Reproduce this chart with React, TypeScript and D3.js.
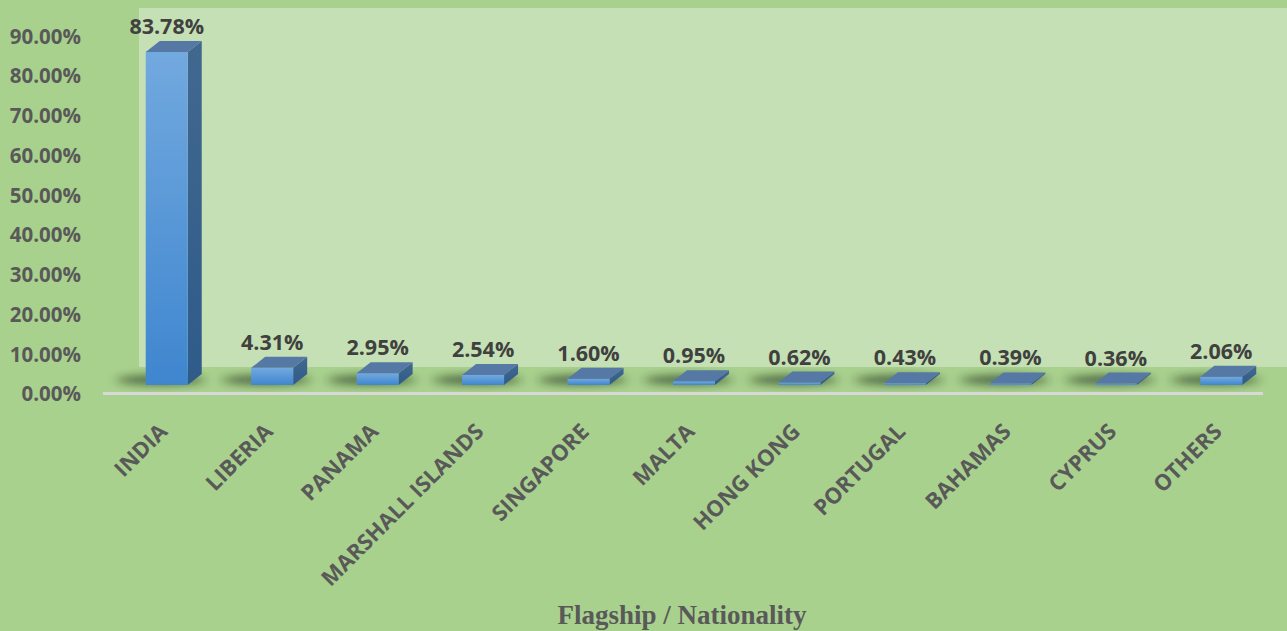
import React from 'react';
import * as d3 from 'd3';

// Share of vessels by flag
const countries = [
  'INDIA',
  'LIBERIA',
  'PANAMA',
  'MARSHALL ISLANDS',
  'SINGAPORE',
  'MALTA',
  'HONG KONG',
  'PORTUGAL',
  'BAHAMAS',
  'CYPRUS',
  'OTHERS',
];
const shares = [83.78, 4.31, 2.95, 2.54, 1.6, 0.95, 0.62, 0.43, 0.39, 0.36, 2.06];
const yTicks = [0, 10, 20, 30, 40, 50, 60, 70, 80, 90];
const axisTitle = 'Flagship / Nationality';

const W = 1287;
const H = 631;
const DX = 14; // 3d depth offset
const DY = 11;
const BAR_W = 42;

const App: React.FC = () => {
  const x = d3
    .scaleBand<string>()
    .domain(countries)
    .range([114, 1274])
    .paddingInner(0)
    .paddingOuter(0);

  // front face baseline at 385
  const y = d3.scaleLinear().domain([0, 90]).range([385, 27.2]);

  const cx = (c: string) => x(c)! + x.bandwidth() / 2;
  const base = y(0);

  return (
    <svg width={W} height={H} style={{ position: 'absolute', left: 0, top: 0 }}>
      <defs>
        <linearGradient id="front" x1="0" y1="0" x2="0" y2="1">
          <stop offset="0%" stopColor="#72a9df" />
          <stop offset="100%" stopColor="#3f86cf" />
        </linearGradient>
        <linearGradient id="side" x1="0" y1="0" x2="0" y2="1">
          <stop offset="0%" stopColor="#41688f" />
          <stop offset="100%" stopColor="#2f5b8a" />
        </linearGradient>
        <filter id="blur" x="-50%" y="-300%" width="200%" height="700%">
          <feGaussianBlur stdDeviation="6 4" />
        </filter>
      </defs>

      {/* background and back wall */}
      <rect width={W} height={H} fill="#a9d18e" />
      <rect x={139} y={8} width={W - 139} height={359} fill="#c5e0b4" />

      {/* floor shadows */}
      {countries.map(c => (
        <ellipse
          key={'s' + c}
          cx={cx(c) - 6}
          cy={380}
          rx={44}
          ry={5}
          fill="#16200e"
          opacity={0.6}
          filter="url(#blur)"
        />
      ))}

      {/* category axis line */}
      <line x1={103} x2={1263} y1={393.5} y2={393.5} stroke="#d9d9d9" strokeWidth={3} />

      {/* y tick labels */}
      {yTicks.map(t => (
        <text
          key={'y' + t}
          x={81}
          y={y(t) + 9}
          dy="0.36em"
          textAnchor="end"
          fontFamily="'Open Sans', sans-serif"
          fontWeight="bold"
          fontSize={20.5}
          fill="#595959"
        >
          {t.toFixed(2)}%
        </text>
      ))}

      {/* bars */}
      {countries.map((c, i) => {
        const v = shares[i];
        const x0 = cx(c) - BAR_W / 2;
        const x1 = x0 + BAR_W;
        const yv = y(v);
        const top = `${x0},${yv} ${x0 + DX},${yv - DY} ${x1 + DX},${yv - DY} ${x1},${yv}`;
        const side = `${x1},${yv} ${x1 + DX},${yv - DY} ${x1 + DX},${base - DY} ${x1},${base}`;
        return (
          <g key={'b' + c}>
            <polygon points={side} fill="url(#side)" />
            <rect x={x0} y={yv} width={BAR_W} height={base - yv} fill="url(#front)" />
            <polygon points={top} fill="#5579a4" />
            <text
              x={cx(c)}
              y={yv - DY - 7}
              textAnchor="middle"
              fontFamily="'Open Sans', sans-serif"
              fontWeight="bold"
              fontSize={21.5}
              fill="#404040"
            >
              {v.toFixed(2)}%
            </text>
          </g>
        );
      })}

      {/* category labels */}
      {countries.map(c => (
        <text
          key={'x' + c}
          transform={`translate(${cx(c) + 2},433) rotate(-45)`}
          textAnchor="end"
          fontFamily="'Open Sans', sans-serif"
          fontWeight="bold"
          fontSize={22}
          fill="#595959"
        >
          {c}
        </text>
      ))}

      {/* axis title */}
      <text
        x={682}
        y={624}
        textAnchor="middle"
        fontFamily="'Liberation Serif', 'Times New Roman', serif"
        fontWeight="bold"
        fontSize={27}
        fill="#595959"
      >
        {axisTitle}
      </text>
    </svg>
  );
};

export default App;
